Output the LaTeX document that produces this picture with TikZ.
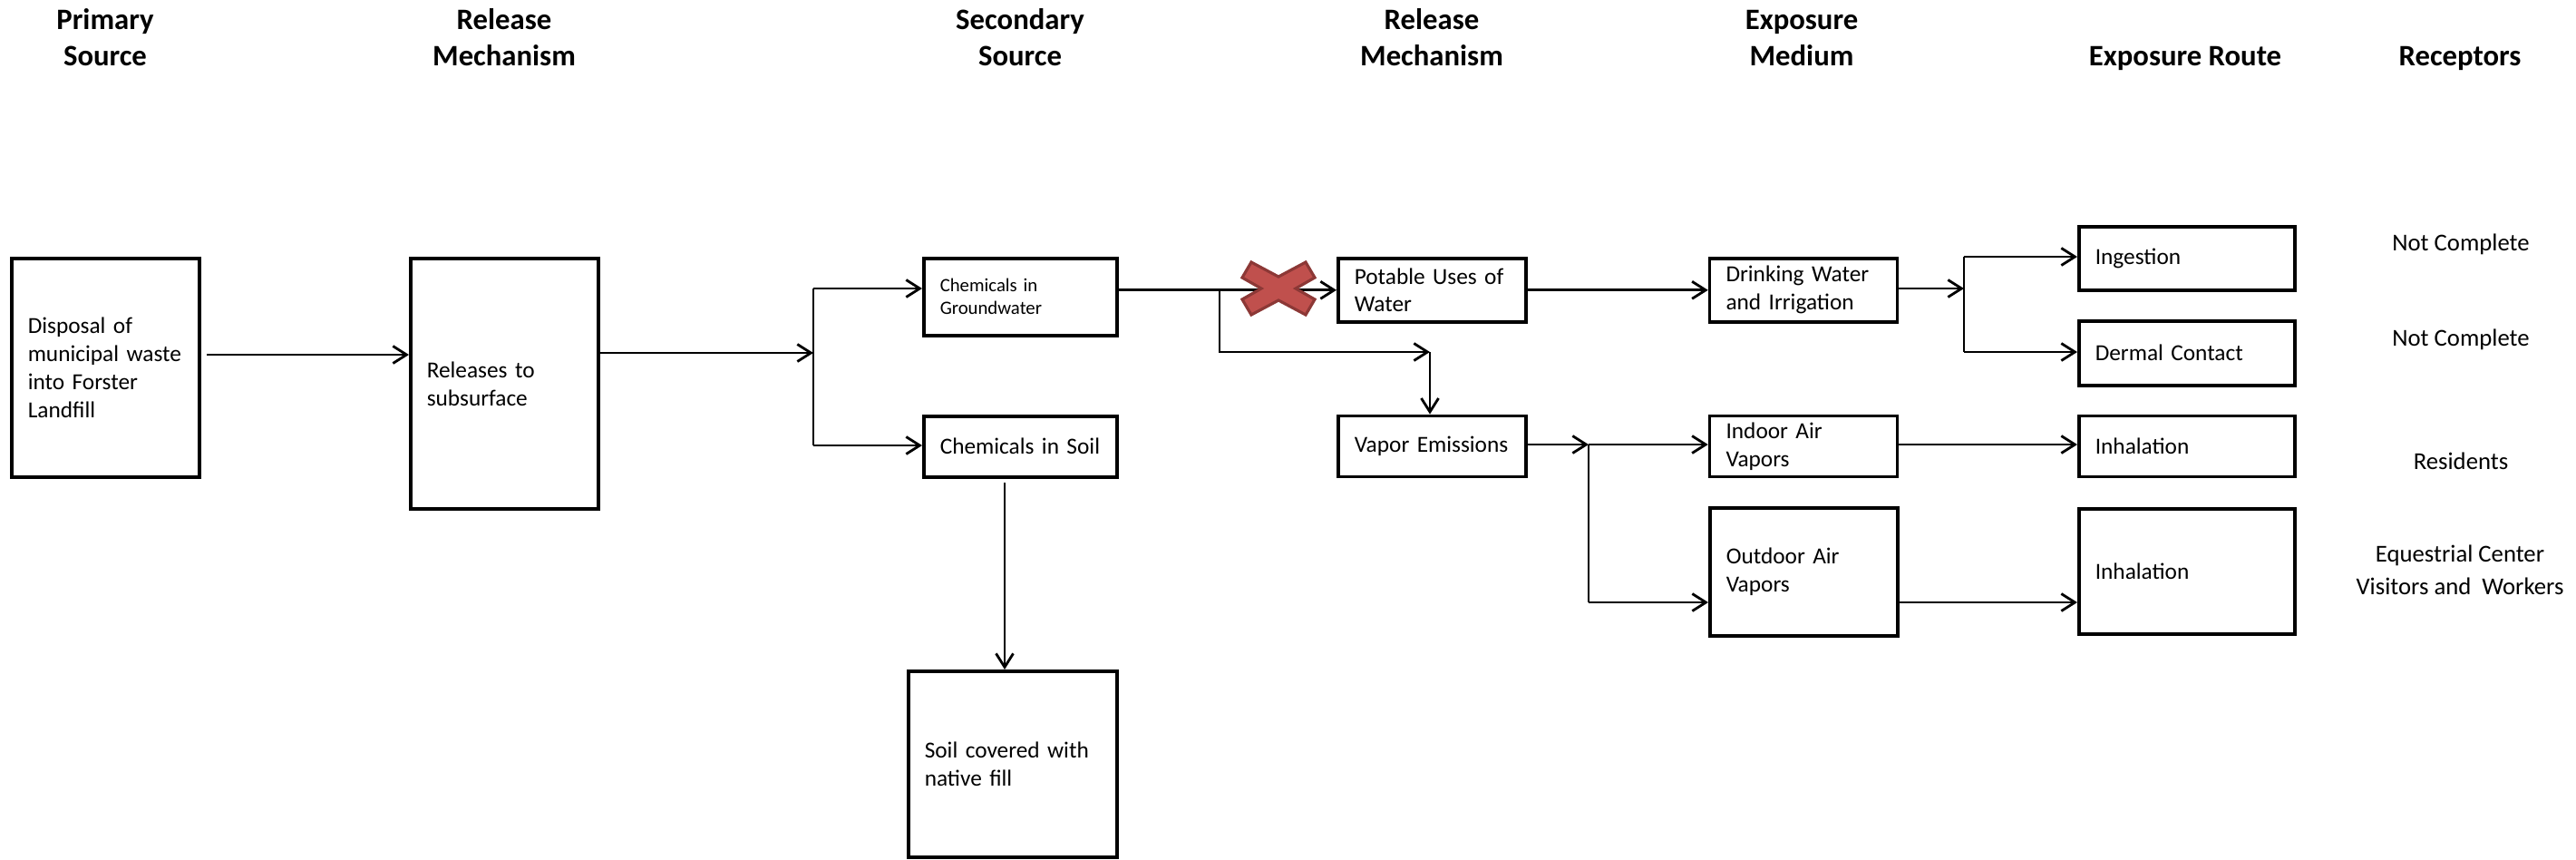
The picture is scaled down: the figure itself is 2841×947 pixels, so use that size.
\documentclass[tikz,border=0pt]{standalone}
\usepackage{fontspec}
\setmainfont{Carlito}
\usepackage{xcolor}
\usepackage{tikz}
\usetikzlibrary{arrows.meta, positioning}
\definecolor{xred}{HTML}{C0504D}
\definecolor{xredd}{HTML}{8C3836}

\begin{document}
\begin{tikzpicture}[
  x=0.01cm, y=-0.01cm,
  box/.style ={draw, line width=1pt, inner xsep=0.18cm, inner ysep=0pt, anchor=north west,
               align=left, font=\fontsize{7.2}{8.8}\selectfont},
  hdr/.style ={font=\fontsize{9.3}{11.4}\selectfont\bfseries, align=center, anchor=north, inner sep=0pt},
  recp/.style={font=\fontsize{7.6}{10}\selectfont, align=center, anchor=base, inner sep=0pt},
  arr/.style ={-{Straight Barb[length=1.5mm,width=1.9mm]}, line width=0.8pt},
  ln/.style  ={line width=0.8pt}
]
\useasboundingbox (0,0) rectangle (2841,947);

%% ---- column headings ----
\node[hdr] (hPrim) at (116,4)  {\strut Primary\\Source};
\node[hdr] (hRel1) at (556,4)  {\strut Release\\Mechanism};
\node[hdr] (hSec)  at (1125,4) {\strut Secondary\\Source};
\node[hdr] (hRel2) at (1579,4) {\strut Release\\Mechanism};
\node[hdr] (hMed)  at (1987,4) {\strut Exposure\\Medium};
\node[hdr, anchor=base] (hRoute) at (2410,72) {Exposure Route};
\node[hdr, anchor=base] (hRec)   at (2713,72) {Receptors};

%% ---- sources ----
\node[box, text width=1.71cm, minimum height=2.41cm] (prim) at (11,283)
  {Disposal of\\municipal waste\\into Forster\\Landfill};
\node[box, text width=1.71cm, minimum height=2.76cm] (rel1) at (451,283)
  {Releases to\\subsurface};
\node[box, text width=1.77cm, minimum height=0.85cm, font=\fontsize{5.9}{7.1}\selectfont] (gw) at (1017,283)
  {Chemicals in\\Groundwater};
\node[box, text width=1.77cm, minimum height=0.67cm] (soil) at (1017,457)
  {Chemicals in Soil};
\node[box, text width=1.94cm, minimum height=2.05cm] (cover) at (1000,738)
  {Soil covered with\\native fill};

%% ---- release / media ----
\node[box, text width=1.71cm, minimum height=0.70cm] (pot) at (1474,283)
  {Potable Uses of\\Water};
\node[box, text width=1.71cm, minimum height=0.67cm, below=1.0cm of pot] (vap)
  {Vapor Emissions};
\node[box, text width=1.71cm, minimum height=0.70cm, right=1.99cm of pot] (drink)
  {Drinking Water\\and Irrigation};
\node[box, text width=1.71cm, minimum height=0.67cm, right=1.99cm of vap] (indoor)
  {Indoor Air\\Vapors};
\node[box, text width=1.71cm, minimum height=1.41cm] (outdoor) at (1884,558)
  {Outdoor Air\\Vapors};

%% ---- routes ----
\node[box, text width=2.02cm, minimum height=0.70cm] (ing)  at (2291,248) {Ingestion};
\node[box, text width=2.02cm, minimum height=0.71cm] (derm) at (2291,352) {Dermal Contact};
\node[box, text width=2.02cm, minimum height=0.67cm, right=1.965cm of indoor] (inh1) {Inhalation};
\node[box, text width=2.02cm, minimum height=1.38cm] (inh2) at (2291,559) {Inhalation};

%% ---- receptors ----
\node[recp] (rec1) at (2714,276) {Not Complete};
\node[recp] (rec2) at (2714,381) {Not Complete};
\node[recp] (rec3) at (2714,517) {Residents};
\node[recp] (rec4) at (2713,655) {Equestrial Center\\Visitors and\ \ Workers};

%% junctions
\coordinate (a1)  at (228,391);
\coordinate (j1)  at (897,389);
\coordinate (j1a) at (897,318);
\coordinate (j1b) at (897,491);
\coordinate (j2)  at (1345,318);
\coordinate (j3)  at (1577,388);
\coordinate (j4)  at (2166,318);
\coordinate (j4a) at (2166,283);
\coordinate (j4b) at (2166,388);
\coordinate (j5)  at (1752,490);
\coordinate (j5b) at (1752,664);
\coordinate (s1)  at (1108,532);

\draw[arr] (a1) -- (rel1.west |- a1);
\draw[arr] (rel1.east |- j1) -- (j1);
\draw[ln]  (j1a) -- (j1b);
\draw[arr] (j1a) -- (gw.west |- j1a);
\draw[arr] (j1b) -- (soil.west |- j1b);
\draw[arr] (s1) -- (cover.north -| s1);

\draw[arr] (gw.east |- pot.west) -- (pot.west);
\draw[arr] (j2) |- (j3);
\draw[arr] (j3) -- (vap.north -| j3);

\draw[arr] (pot) -- (drink);
\draw[arr] (drink.east |- j4) -- (j4);
\draw[ln]  (j4a) -- (j4b);
\draw[arr] (j4a) -- (ing.west |- j4a);
\draw[arr] (j4b) -- (derm.west |- j4b);

\draw[arr] (vap.east |- j5) -- (j5);
\draw[ln]  (j5) -- (j5b);
\draw[arr] (j5) -- (indoor.west |- j5);
\draw[arr] (j5b) -- (outdoor.west |- j5b);
\draw[arr] (indoor.east |- j5) -- (inh1.west |- j5);
\draw[arr] (outdoor.east |- j5b) -- (inh2.west |- j5b);

% pathway cut: potable use
\filldraw[fill=xred, draw=xredd, line width=0.9pt, shift={(1410,318)}]
  (0,13) -- (30,29) -- (40,12) -- (19,0) -- (40,-12) -- (30,-29)
  -- (0,-13) -- (-30,-29) -- (-40,-12) -- (-19,0) -- (-40,12) -- (-30,29) -- cycle;

\end{tikzpicture}
\end{document}
